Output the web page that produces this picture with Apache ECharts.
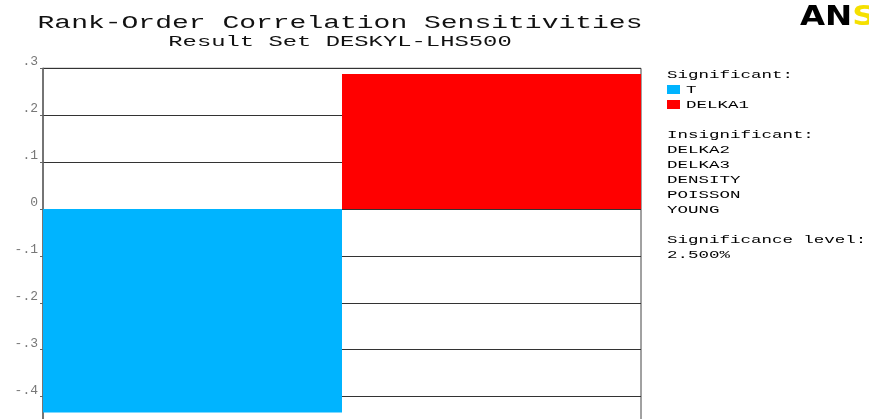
<!DOCTYPE html>
<html><head><meta charset="utf-8">
<script src="https://cdn.jsdelivr.net/npm/echarts@6/dist/echarts.min.js"></script>
<style>html,body{margin:0;padding:0;background:#fff}#c{width:869px;height:419px}</style>
</head><body><div id="c"></div>
<script>
// ---- data ----
const categories = ["T", "DELKA1"];
const values = [-0.434, 0.288];
const barColors = ["#00b4ff", "#ff0000"];
const insignificant = ["DELKA2", "DELKA3", "DENSITY", "POISSON", "YOUNG"];
const significanceLevel = "2.500%";
const titleText = "Rank-Order Correlation Sensitivities";
const subtitleText = "Result Set DESKYL-LHS500";
const yMin = -0.5, yMax = 0.3, yStep = 0.1;

// ---- layout / style ----
const MONO = "'Liberation Mono', 'DejaVu Sans Mono', monospace";
function txt(str, x, y, size, sx, align, color) {
  return {
    type: 'text', x: x, y: y, scaleX: sx, silent: true,
    style: { text: str, font: size + 'px ' + MONO, fill: color || '#000',
             align: align || 'left', verticalAlign: 'middle' }
  };
}
const graphics = [];
graphics.push(txt(titleText, 340, 23, 17.5, 1.6, 'center', '#111'));
graphics.push(txt(subtitleText, 340, 42, 15, 1.59, 'center', '#111'));
graphics.push({
  type: 'text', x: 800, y: 17.5, scaleX: 1.2, silent: true,
  style: {
    text: '{k|AN}{y|S}', verticalAlign: 'middle',
    rich: {
      k: { font: 'bold 27px "DejaVu Sans"', fill: '#000' },
      y: { font: 'bold 27px "DejaVu Sans"', fill: '#f5e000' }
    }
  }
});
const LX = 667, LH = 15, LF = 11.5, LS = 1.52;
let ly = 75;
graphics.push(txt('Significant:', LX, ly, LF, LS));
categories.forEach((c, i) => {
  ly += LH;
  graphics.push({ type: 'rect', shape: { x: LX, y: ly - 5, width: 13, height: 9 },
                  style: { fill: barColors[i] }, silent: true });
  graphics.push(txt(c, LX + 19, ly, LF, LS));
});
ly += LH * 2;
graphics.push(txt('Insignificant:', LX, ly, LF, LS));
insignificant.forEach(n => { ly += LH; graphics.push(txt(n, LX, ly, LF, LS)); });
ly += LH * 2;
graphics.push(txt('Significance level:', LX, ly, LF, LS));
ly += LH;
graphics.push(txt(significanceLevel, LX, ly, LF, LS));

function fmt(v) {
  v = Math.round(v * 10) / 10;
  if (v === 0) return '0';
  return (v < 0 ? '-' : '') + Math.abs(v).toFixed(1).replace(/^0/, '');
}

const chart = echarts.init(document.getElementById('c'), null, { renderer: 'canvas' });
chart.setOption({
  animation: false,
  backgroundColor: '#fff',
  grid: { left: 43, right: 228, top: 68.3, height: 375.2, show: true,
          outerBoundsMode: 'none', containLabel: false,
          borderColor: '#444', borderWidth: 1, backgroundColor: 'transparent' },
  xAxis: { type: 'category', data: categories, show: true,
           axisLine: { show: false }, axisTick: { show: false }, axisLabel: { show: false },
           splitLine: { show: false } },
  yAxis: { type: 'value', min: yMin, max: yMax, interval: yStep,
           axisLine: { show: true, lineStyle: { color: '#666', width: 1.5 } },
           axisTick: { show: true, length: 3, lineStyle: { color: '#666' } },
           axisLabel: { formatter: fmt, color: '#777', fontFamily: MONO, fontSize: 13,
                        margin: 5, verticalAlign: 'bottom' },
           splitLine: { show: true, lineStyle: { color: '#333', width: 1 } } },
  series: [{
    type: 'bar', barWidth: '100%', barCategoryGap: 0,
    data: values.map((v, i) => ({ value: v, itemStyle: { color: barColors[i] } }))
  }],
  graphic: graphics
});
</script></body></html>
